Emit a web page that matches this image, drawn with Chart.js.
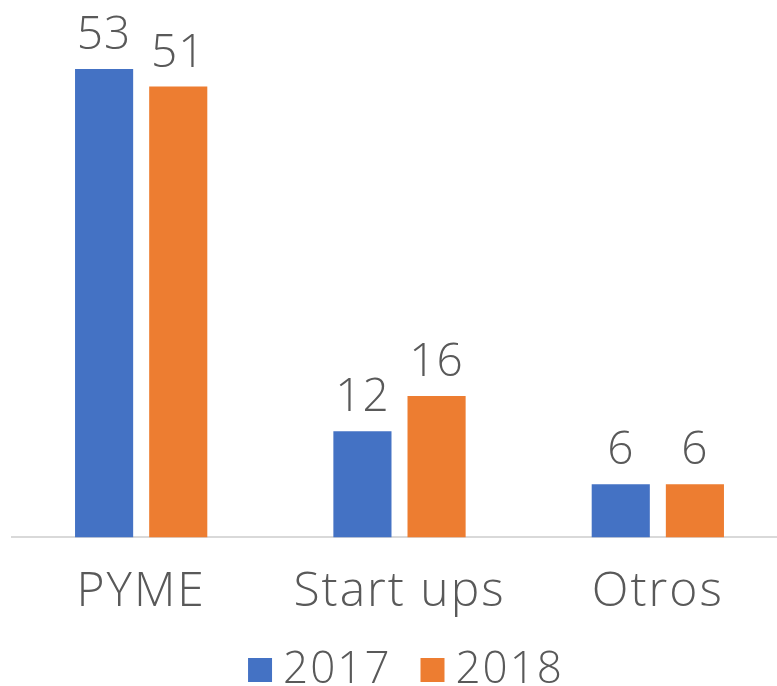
<!DOCTYPE html>
<html>
<head>
<meta charset="utf-8">
<script src="https://cdn.jsdelivr.net/npm/chart.js@4"></script>
<style>
  html, body { margin: 0; padding: 0; background: #fff; overflow: hidden; }
  #wrap { width: 811px; height: 686px; }
</style>
</head>
<body>
<div id="wrap"><canvas id="myChart" width="811" height="686"></canvas></div>
<script>
// data
const categories = ["PYME", "Start ups", "Otros"];
const values2017 = [53, 12, 6];
const values2018 = [51, 16, 6];
const seriesNames = ["2017", "2018"];

const fontFamily = "'Open Sans', Lato, sans-serif";
const textColor = "#595959";

// a bit wider letters, closer to the original typeface
const spacing = {
  id: "spacing",
  beforeLayout(chart) { chart.ctx.letterSpacing = "2px"; },
  afterLayout(chart) { chart.scales.x.bottom += 24; }, // so descenders are not cut
  beforeDraw(chart) { chart.ctx.letterSpacing = "2px"; }
};

// labels above the bars
const barLabels = {
  id: "barLabels",
  afterDatasetsDraw(chart) {
    const ctx = chart.ctx;
    ctx.save();
    ctx.letterSpacing = "1px";
    ctx.font = "300 46px " + fontFamily;
    ctx.fillStyle = textColor;
    ctx.textAlign = "center";
    ctx.textBaseline = "alphabetic";
    chart.data.datasets.forEach(function(ds, i) {
      chart.getDatasetMeta(i).data.forEach(function(bar, j) {
        ctx.fillText(ds.data[j], bar.x, bar.y - 20);
      });
    });
    ctx.restore();
  }
};

new Chart("myChart", {
  type: "bar",
  data: {
    labels: categories,
    datasets: [
      {
        label: seriesNames[0],
        data: values2017,
        backgroundColor: "#4472C4",
        categoryPercentage: 0.574,
        barPercentage: 0.784
      },
      {
        label: seriesNames[1],
        data: values2018,
        backgroundColor: "#ED7D31",
        categoryPercentage: 0.574,
        barPercentage: 0.784
      }
    ]
  },
  options: {
    responsive: false,
    animation: false,
    layout: { padding: { left: 12, top: 7, right: 0, bottom: -16 } },
    plugins: {
      legend: {
        position: "bottom",
        labels: {
          usePointStyle: true,
          pointStyle: "rect",
          boxWidth: 2,
          boxHeight: 24,
          padding: 40,
          color: textColor,
          font: { family: fontFamily, size: 44, weight: 300 }
        }
      },
      tooltip: { enabled: false }
    },
    scales: {
      x: {
        grid: { display: false },
        border: { color: "#d9d9d9", width: 2 },
        ticks: {
          color: textColor,
          padding: 18,
          font: { family: fontFamily, size: 48, weight: 300 }
        },
        afterFit: function(scale) { scale.height -= 31; }
      },
      y: {
        display: false,
        min: 0,
        max: 60
      },
      yRight: {
        position: "right",
        display: true,
        grid: { display: false },
        border: { display: false },
        ticks: { display: false },
        afterFit: function(scale) { scale.width = 24; }
      }
    }
  },
  plugins: [spacing, barLabels]
});
</script>
</body>
</html>
